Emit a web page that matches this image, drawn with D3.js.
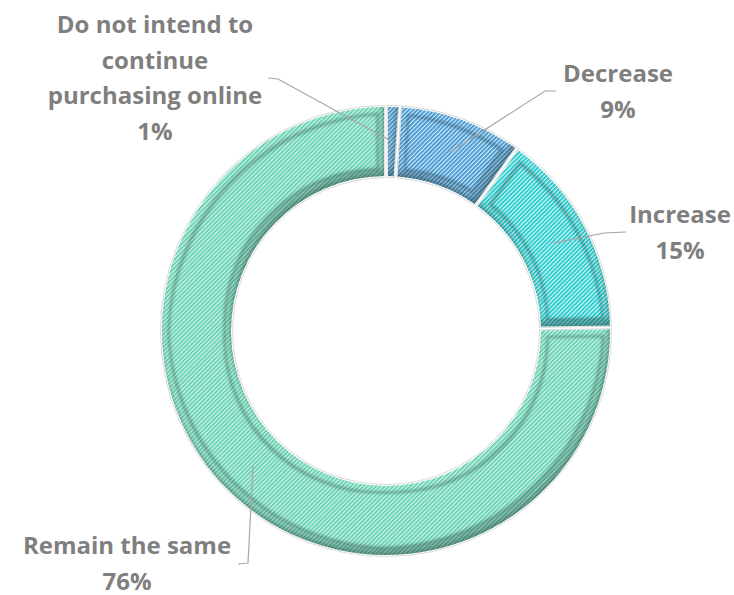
<!DOCTYPE html>
<html>
<head>
<meta charset="utf-8">
<script src="https://cdn.jsdelivr.net/npm/d3@7/dist/d3.min.js"></script>
<style>
  html, body { margin: 0; padding: 0; background: #fff; }
  svg { display: block; }
  text { font-family: "Open Sans", "Lato", sans-serif; font-weight: 700; fill: #7f7f7f; }
</style>
</head>
<body>
<svg id="chart" width="734" height="595"></svg>
<script>
// Survey answers: how online purchasing will change
const categories = ["Do not intend to continue purchasing online", "Decrease", "Increase", "Remain the same"];
const values = [1, 9, 15, 76];
const labelLines = [["Do not intend to", "continue", "purchasing online"], ["Decrease"], ["Increase"], ["Remain the same"]];

// stripe colours per slice: [stripe, background]
const stripeColors = [["#3f93cf", "#d0eaf8"], ["#3f93cf", "#d0eaf8"], ["#1cc8cb", "#d4f8f8"], ["#5ccfae", "#d8f5ec"]];

const W = 734, H = 595;
const cx = 386, cy = 331, rOuter = 224, rInner = 155;

// label placement: text centre x, first baseline y, elbow of the leader line
const labelLayout = [
  { x: 155, y: 33, elbow: [[268, 78], [278, 79]] },
  { x: 618, y: 82, elbow: [[556, 91], [545, 91]] },
  { x: 680, y: 223, elbow: [[626, 232], [604, 233]] },
  { x: 127, y: 554, elbow: [[238, 564], [248, 563]] }
];
const lineGap = 35.5;

const svg = d3.select("#chart");
const defs = svg.append("defs");

stripeColors.forEach((c, i) => {
  const p = defs.append("pattern")
    .attr("id", "stripe" + i)
    .attr("patternUnits", "userSpaceOnUse")
    .attr("width", 3).attr("height", 3)
    .attr("patternTransform", "rotate(45)");
  p.append("rect").attr("width", 3).attr("height", 3).attr("fill", c[1]);
  p.append("rect").attr("width", 1.7).attr("height", 3).attr("fill", c[0]);
});

// bevel-like inner shading: darker toward the lower-facing edges, dark rim inset all round
const f = defs.append("filter").attr("id", "bevel")
  .attr("x", "-10%").attr("y", "-10%").attr("width", "120%").attr("height", "120%");
f.append("feGaussianBlur").attr("in", "SourceAlpha").attr("stdDeviation", 3).attr("result", "blur");
f.append("feOffset").attr("in", "blur").attr("dx", -2).attr("dy", -6).attr("result", "off");
f.append("feComposite").attr("in", "SourceAlpha").attr("in2", "off").attr("operator", "out").attr("result", "band");
f.append("feFlood").attr("flood-color", "#1a3f3a").attr("flood-opacity", 0.7).attr("result", "col");
f.append("feComposite").attr("in", "col").attr("in2", "band").attr("operator", "in").attr("result", "shade");
f.append("feMorphology").attr("in", "SourceAlpha").attr("operator", "erode").attr("radius", 5).attr("result", "er");
f.append("feGaussianBlur").attr("in", "er").attr("stdDeviation", 1.2).attr("result", "erb");
f.append("feMorphology").attr("in", "SourceAlpha").attr("operator", "erode").attr("radius", 8).attr("result", "er2");
f.append("feGaussianBlur").attr("in", "er2").attr("stdDeviation", 1.2).attr("result", "er2b");
f.append("feComposite").attr("in", "erb").attr("in2", "er2b").attr("operator", "out").attr("result", "ring");
f.append("feFlood").attr("flood-color", "#1a3f3a").attr("flood-opacity", 0.45).attr("result", "col2");
f.append("feComposite").attr("in", "col2").attr("in2", "ring").attr("operator", "in").attr("result", "rim");
const m = f.append("feMerge");
m.append("feMergeNode").attr("in", "SourceGraphic");
m.append("feMergeNode").attr("in", "rim");
m.append("feMergeNode").attr("in", "shade");

const pie = d3.pie().sort(null).value(d => d);
const arcs = pie(values);

const arc = d3.arc().innerRadius(rInner).outerRadius(rOuter).padAngle(0.02).padRadius(200);
const outline = d3.arc().innerRadius(rInner - 1.5).outerRadius(rOuter + 1.5).padAngle(0.012).padRadius(200);
const mid = d3.arc().innerRadius((rInner + rOuter) / 2).outerRadius((rInner + rOuter) / 2);

const g = svg.append("g").attr("transform", `translate(${cx},${cy})`);

g.selectAll("path.outline").data(arcs).join("path")
  .attr("class", "outline")
  .attr("d", outline)
  .attr("fill", "#fff")
  .attr("stroke", "#d9d9d9")
  .attr("stroke-width", 1);

g.selectAll("path.slice").data(arcs).join("path")
  .attr("class", "slice")
  .attr("d", arc)
  .attr("fill", (d, i) => `url(#stripe${i})`)
  .attr("filter", "url(#bevel)");

// leader lines from label elbow to the slice centre
const line = d3.line();
arcs.forEach((d, i) => {
  const c = mid.centroid(d);
  const pts = labelLayout[i].elbow.concat([[c[0] + cx, c[1] + cy]]);
  svg.append("path")
    .attr("d", line(pts))
    .attr("fill", "none")
    .attr("stroke", "#a6a6a6")
    .attr("stroke-width", 1.2);
});

// labels
arcs.forEach((d, i) => {
  const L = labelLayout[i];
  const lines = labelLines[i].concat([values[i] + "%"]);
  const t = svg.append("text")
    .attr("text-anchor", "middle")
    .attr("font-size", 24);
  lines.forEach((s, k) => {
    t.append("tspan").attr("x", L.x).attr("y", L.y + k * lineGap).text(s);
  });
});
</script>
</body>
</html>
